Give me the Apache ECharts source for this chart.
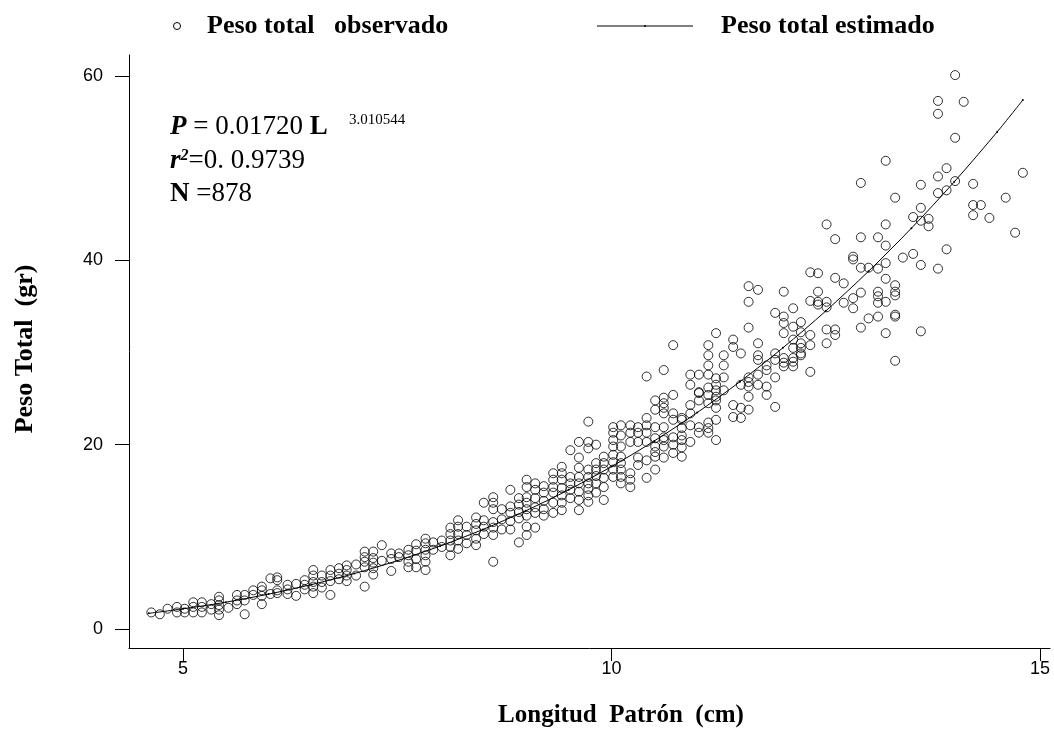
<!DOCTYPE html>
<html>
<head>
<meta charset="utf-8">
<script src="https://cdn.jsdelivr.net/npm/echarts@6/dist/echarts.min.js"></script>
<style>
html,body{margin:0;padding:0;background:#fff;}
#chart{width:1054px;height:730px;}
</style>
</head>
<body>
<div id="chart"></div>
<script>
// Observed points: [standard length (cm), [total weights (g) at that length]]
const obsColumns = [
  [4.63,[1.8]],[4.73,[1.6]],[4.82,[2.2]],[4.93,[2.4,1.8]],[5.02,[1.8,2.2]],
  [5.12,[2.9,2.4,1.8]],[5.22,[2.9,2.4,1.8]],[5.33,[2.7,2.1]],[5.42,[3.5,3.1,2.6,2.1,1.5]],
  [5.53,[2.3]],[5.63,[3.7,3.1,2.7]],[5.72,[3.7,3.1,1.6]],[5.82,[4.2,3.7]],
  [5.92,[4.6,4.2,3.6,2.7]],[6.02,[5.5,3.8]],[6.10,[5.6,5.3,4.2,3.9]],[6.22,[4.8,4.3,3.8]],
  [6.32,[4.9,3.6]],[6.42,[5.3,4.8,4.3]],[6.52,[6.4,5.8,5.1,4.6,3.9]],[6.62,[5.8,5.1,4.5]],
  [6.72,[6.4,5.8,5.2,3.7]],[6.82,[6.6,6.0,5.4]],[6.91,[6.9,6.4,5.8,5.2]],[7.02,[7.0,5.8]],
  [7.12,[8.4,7.8,7.3,6.7,4.6]],[7.22,[8.4,7.7,7.2,6.6,5.9]],[7.32,[9.1,7.4]],
  [7.43,[8.2,7.6,6.3]],[7.52,[8.2,7.8]],[7.63,[8.6,8.0,7.3,6.7]],[7.72,[9.2,8.5,7.6,6.7]],
  [7.83,[9.8,9.3,8.6,8.0,7.3,6.4]],[7.92,[9.4,8.6]],[8.02,[9.6,8.9]],
  [8.12,[11.0,10.3,9.6,8.9,8.0]],[8.21,[11.8,11.1,10.3,9.6,8.7]],[8.31,[11.1,10.2,9.3]],
  [8.42,[12.1,11.4,10.7,9.8,9.1]],[8.51,[13.7,11.8,11.1,10.3]],
  [8.62,[14.3,13.7,13.0,11.6,11.0,10.2,7.3]],[8.72,[13.0,11.9,10.8]],
  [8.82,[15.1,13.3,12.6,11.7,10.8]],[8.92,[14.2,13.5,12.7,12.0,9.4]],
  [9.01,[16.2,15.4,14.3,13.7,13.0,12.3,11.1,10.2]],[9.11,[15.8,15.1,14.2,13.2,12.6,11.0]],
  [9.21,[15.5,14.8,13.9,13.0,12.3]],[9.32,[16.9,16.2,15.4,14.8,13.7,12.6]],
  [9.42,[17.6,16.9,16.2,15.3,14.5,13.7,12.9]],[9.52,[19.4,16.5,15.8,15.1,14.2]],
  [9.62,[20.3,18.6,17.5,16.5,15.8,14.9,14.0,12.9]],
  [9.73,[22.5,20.3,19.6,17.3,16.5,15.8,15.2,14.5,13.8]],
  [9.82,[20.0,18.0,17.3,16.6,15.8,14.8]],[9.91,[18.7,18.0,17.3,16.4,15.4,14.0]],
  [10.02,[21.9,21.3,20.5,19.8,18.9,18.1,17.3,16.5]],
  [10.11,[22.1,21.0,19.8,18.7,18.0,17.3,16.5,15.8]],
  [10.22,[22.1,21.3,20.3,16.9,16.2,15.4]],[10.31,[21.9,21.3,20.3,18.6,17.8]],
  [10.41,[27.4,22.9,22.1,21.3,20.3,18.3,16.4]],
  [10.51,[24.8,23.8,21.9,20.7,19.8,19.2,18.7,17.3]],
  [10.61,[28.1,25.1,24.5,24.0,23.4,21.9,20.8,20.5,19.8,18.6]],
  [10.72,[30.8,25.4,23.4,22.7,20.8,20.0,19.1]],
  [10.82,[22.9,22.7,21.8,21.0,20.5,19.7,18.7]],
  [10.92,[27.6,26.5,24.3,23.4,22.1,20.3]],
  [11.02,[27.6,25.7,25.6,24.8,21.9,21.3]],
  [11.13,[30.8,29.7,28.6,27.6,26.2,25.4,24.5,22.4,21.8,21.3]],
  [11.22,[32.1,27.2,26.5,25.9,25.2,24.8,24.0,22.7,20.5]],
  [11.31,[29.7,28.6,27.3,25.9]],[11.42,[31.4,30.6,24.3,23.0]],[11.51,[29.9,26.5,24.0,22.9]],
  [11.60,[37.2,35.5,32.7,27.3,26.8,26.3,25.2,23.8]],[11.71,[36.8,31.0,29.7,29.2,27.6,26.5]],
  [11.81,[28.6,28.1,26.3,25.4]],[11.91,[34.3,29.9,29.2,27.3,24.1]],
  [12.01,[36.6,33.9,33.2,32.1,29.4,28.9,28.5]],[12.12,[34.8,32.8,31.4,30.5,29.4,29.0,28.5]],
  [12.21,[33.3,32.2,31.0,30.5,29.9,29.7]],[12.32,[38.7,35.6,31.9,30.8,27.9]],
  [12.41,[38.6,36.6,35.5,35.2]],[12.51,[43.9,35.5,34.9,32.5,31.0]],
  [12.61,[42.3,38.1,32.5,31.9]],[12.71,[37.5,35.4]],[12.82,[40.4,40.1,35.9,34.8]],
  [12.91,[48.4,42.5,39.2,36.5,32.7]],[13.00,[39.2,33.7]],
  [13.11,[42.5,39.1,36.6,36.1,35.4,33.9]],[13.20,[50.8,43.9,41.6,39.7,38.0,35.5,32.1]],
  [13.31,[46.8,37.3,36.6,36.2,34.1,33.9,29.1]],[13.40,[40.3]],[13.52,[44.7,40.7]],
  [13.61,[48.2,45.7,44.3,39.5,32.3]],[13.70,[44.5,43.7]],[13.81,[57.3,55.9,49.1,47.3,39.1]],
  [13.91,[50.0,47.6,41.2]],[14.01,[60.1,53.3,48.6]],[14.11,[57.2]],[14.22,[48.3,46.0,44.9]],
  [14.31,[46.0]],[14.41,[44.6]],[14.60,[46.8]],[14.71,[43.0]],[14.80,[49.5]]
];

// Estimated curve
const estL = [4.6,5,5.5,6,6.5,7,7.5,8,8.5,9,9.5,10,10.5,11,11.5,12,12.5,13,13.5,14,14.5,14.8];
const estP = [1.70,2.19,2.91,3.79,4.82,6.02,7.41,9.00,10.80,12.83,15.10,17.62,20.41,23.48,26.84,30.51,34.50,38.82,43.49,48.52,53.93,57.4];

const xTicks = [5, 10, 15];
const yTicks = [0, 20, 40, 60];

const obsData = [];
obsColumns.forEach(function (c) { c[1].forEach(function (w) { obsData.push([c[0], w]); }); });
const estData = estL.map(function (l, i) { return [l, estP[i]]; });

const serif = '"Liberation Serif", "DejaVu Serif", serif';
const sans = '"Liberation Sans", Arial, sans-serif';

const chart = echarts.init(document.getElementById('chart'));
chart.setOption({
  animation: false,
  backgroundColor: '#ffffff',
  grid: { left: 129, right: 4, top: 55, bottom: 82 },
  xAxis: {
    type: 'value', min: 4.37, max: 15.117,
    splitLine: { show: false },
    axisLine: { show: true, onZero: false, lineStyle: { color: '#000', width: 1 } },
    axisTick: { show: true, length: 13, customValues: xTicks, lineStyle: { color: '#000' } },
    axisLabel: { customValues: xTicks, margin: 12, color: '#000', fontFamily: sans, fontSize: 18 }
  },
  yAxis: {
    type: 'value', min: -2.06, max: 62.28,
    splitLine: { show: false },
    axisLine: { show: true, onZero: false, lineStyle: { color: '#000', width: 1 } },
    axisTick: { show: true, length: 14, customValues: yTicks, lineStyle: { color: '#000' } },
    axisLabel: { customValues: yTicks, margin: 26, color: '#000', fontFamily: sans, fontSize: 18 }
  },
  series: [
    {
      type: 'scatter', data: obsData, symbol: 'circle', symbolSize: 9,
      itemStyle: { color: 'rgba(0,0,0,0)', borderColor: '#000', borderWidth: 1 },
      z: 2
    },
    {
      type: 'line', data: estData, smooth: 0.3, symbol: 'circle', symbolSize: 2,
      showSymbol: true,
      itemStyle: { color: '#000' },
      lineStyle: { color: '#000', width: 1 },
      z: 3
    }
  ],
  graphic: [
    // Legend
    { type: 'circle', shape: { cx: 177, cy: 26, r: 3.5 }, style: { fill: 'none', stroke: '#000', lineWidth: 1 } },
    { type: 'text', x: 207, y: 26, style: { text: 'Peso total   observado', font: 'bold 26px ' + serif, fill: '#000', verticalAlign: 'middle' } },
    { type: 'line', shape: { x1: 597, y1: 26, x2: 693, y2: 26 }, style: { stroke: '#000', lineWidth: 1 } },
    { type: 'circle', shape: { cx: 645, cy: 26, r: 1 }, style: { fill: '#000' } },
    { type: 'text', x: 721, y: 26, style: { text: 'Peso total estimado', font: 'bold 26px ' + serif, fill: '#000', verticalAlign: 'middle' } },
    // Equation
    { type: 'text', x: 170, y: 127, style: {
        text: '{pi|P} = 0.01720 {b|L}', verticalAlign: 'middle', fill: '#000',
        font: '27px ' + serif,
        rich: {
          pi: { fontFamily: serif, fontSize: 27, fontWeight: 'bold', fontStyle: 'italic' },
          b: { fontFamily: serif, fontSize: 27, fontWeight: 'bold' }
        }
    } },
    { type: 'text', x: 349, y: 120, style: { text: '3.010544', font: '15px ' + serif, fill: '#000', verticalAlign: 'middle' } },
    { type: 'text', x: 170, y: 161, style: {
        text: '{ri|r}{sup|2}=0. 0.9739', verticalAlign: 'middle', fill: '#000',
        font: '27px ' + serif,
        rich: {
          ri: { fontFamily: serif, fontSize: 27, fontWeight: 'bold', fontStyle: 'italic' },
          sup: { fontFamily: serif, fontSize: 16, fontWeight: 'bold', fontStyle: 'italic', verticalAlign: 'top', padding: [0, 0, 10, 0] }
        }
    } },
    { type: 'text', x: 170, y: 194, style: {
        text: '{b|N} =878', verticalAlign: 'middle', fill: '#000',
        font: '27px ' + serif,
        rich: { b: { fontFamily: serif, fontSize: 27, fontWeight: 'bold' } }
    } },
    // Axis titles
    { type: 'text', x: 621, y: 716, style: { text: 'Longitud  Patrón  (cm)', font: 'bold 25px ' + serif, fill: '#000', align: 'center', verticalAlign: 'middle' } },
    { type: 'text', x: 25, y: 349, rotation: Math.PI / 2, style: { text: 'Peso Total  (gr)', font: 'bold 26px ' + serif, fill: '#000', align: 'center', verticalAlign: 'middle' } }
  ]
});
</script>
</body>
</html>
